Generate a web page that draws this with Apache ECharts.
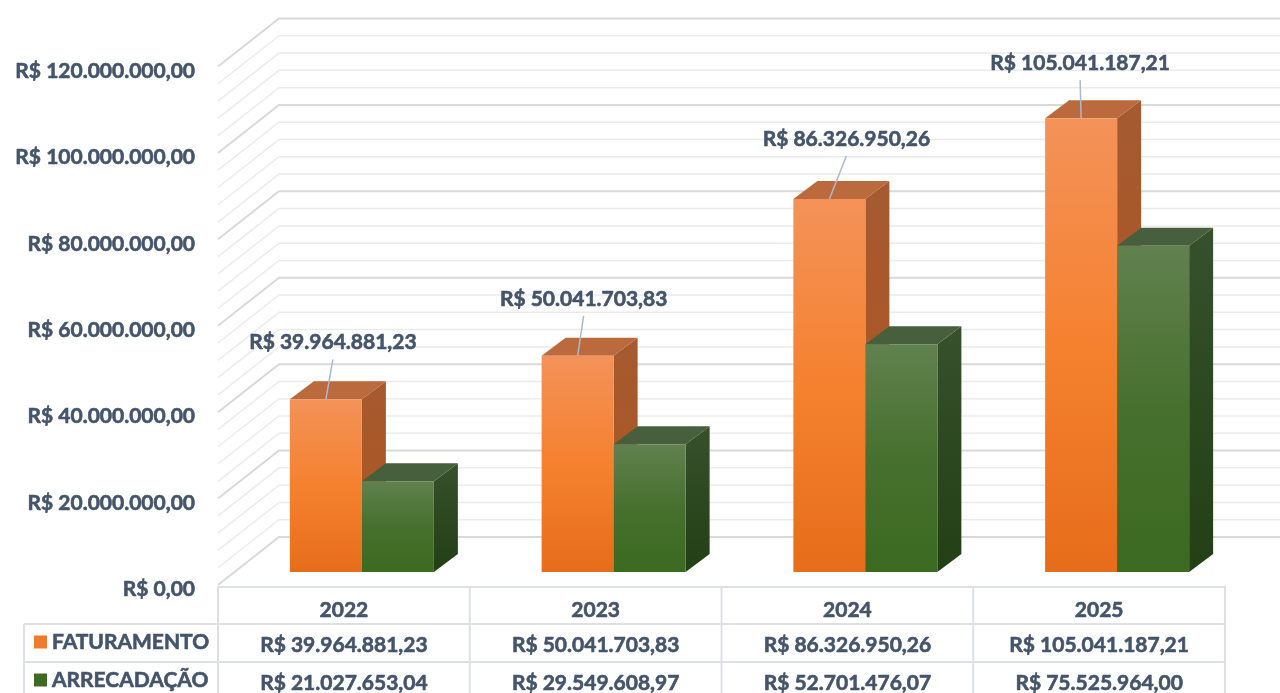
<!DOCTYPE html>
<html>
<head>
<meta charset="utf-8">
<script src="https://cdn.jsdelivr.net/npm/echarts@6/dist/echarts.min.js"></script>
<style>
  html, body { margin: 0; padding: 0; background: #ffffff; }
  #chart { width: 1280px; height: 693px; }
</style>
</head>
<body>
<div id="chart"></div>
<script>
// ---------------- data ----------------
const categories = ['2022', '2023', '2024', '2025'];
const faturamento = [39964881.23, 50041703.83, 86326950.26, 105041187.21];
const arrecadacao = [21027653.04, 29549608.97, 52701476.07, 75525964.00];
const seriesNames = ['FATURAMENTO', 'ARRECADAÇÃO'];
const yMin = 0;
const yMax = 120000000;
const yMajorStep = 20000000;
const yMinorStep = 4000000;

// ---------------- layout / style ----------------
const TEXT = '#44546a';
const FONT = 'Lato';
const BW = 0.6; // faux-bold stroke
const WALL = { dx: 61, dy: -48 };
const BAR_OFF = { dx: 18, dy: -13 };
const BAR_DEPTH = { dx: 24, dy: -18 };
const BAR_FRAC = 0.286;
const labelNudge = [[7, -57], [6, -57], [17, -60], [-1, -55]];

const palette = [
  { legend: '#ee7b2e',
    front: ['#f39259', '#f5812f', '#e66d1a'],
    side: ['#a55a30', '#b0561e'],
    top: '#bb6a3d' },
  { legend: '#3e6a25',
    front: ['#61814f', '#47702e', '#3b6a21'],
    side: ['#36512c', '#223f15'],
    top: '#475f3c' }
];

function brl(v) {
  const parts = Math.abs(v).toFixed(2).split('.');
  const ip = parts[0].replace(/\B(?=(\d{3})+(?!\d))/g, '.');
  return 'R$ ' + ip + ',' + parts[1];
}

function vgrad(stops) {
  const n = stops.length;
  return new echarts.graphic.LinearGradient(0, 0, 0, 1,
    stops.map((c, i) => ({ offset: n === 1 ? 0 : i / (n - 1), color: c })));
}

function renderWalls(params, api) {
  const cs = params.coordSys;
  const children = [];
  for (let k = 0; yMin + k * yMinorStep <= yMax + 1; k++) {
    const v = yMin + k * yMinorStep;
    const y = api.coord([0, v])[1];
    const major = (v % yMajorStep) === 0;
    children.push({
      type: 'polyline',
      shape: { points: [[cs.x, y], [cs.x + WALL.dx, y + WALL.dy], [1300, y + WALL.dy]] },
      style: { stroke: major ? '#d9d9d9' : '#ebebeb', lineWidth: major ? 2 : 1.5, fill: null }
    });
  }
  return { type: 'group', children: children, silent: true };
}

function renderTable(params, api) {
  const idx = params.dataIndex;
  const c = api.coord([idx, 0]);
  const band = api.size([1, 0])[0];
  const x0 = c[0] - band / 2, x1 = c[0] + band / 2, yb = c[1];
  const st = { stroke: '#dde1e7', lineWidth: 2 };
  const ch = [];
  const rowY = [yb + 2, yb + 39, yb + 77, yb + 115];
  rowY.forEach(y => ch.push({ type: 'line', shape: { x1: x0, y1: y, x2: x1, y2: y }, style: st }));
  ch.push({ type: 'line', shape: { x1: x0, y1: yb + 1, x2: x0, y2: yb + 130 }, style: st });
  if (idx === categories.length - 1) {
    ch.push({ type: 'line', shape: { x1: x1, y1: yb + 1, x2: x1, y2: yb + 130 }, style: st });
  }
  if (idx === 0) {
    const lx = 24;
    [yb + 39, yb + 77, yb + 115].forEach(y =>
      ch.push({ type: 'line', shape: { x1: lx, y1: y, x2: x0, y2: y }, style: st }));
    ch.push({ type: 'line', shape: { x1: lx, y1: yb + 39, x2: lx, y2: yb + 130 }, style: st });
  }
  return { type: 'group', children: ch, silent: true };
}

function makeBarRenderer(si) {
  return function (params, api) {
    const idx = params.dataIndex;
    const val = api.value(1);
    const pTop = api.coord([idx, val]);
    const pBot = api.coord([idx, 0]);
    const band = api.size([1, 0])[0];
    const w = band * BAR_FRAC;
    const fx = pTop[0] + BAR_OFF.dx + (si === 0 ? -w : 0);
    const topY = pTop[1] + BAR_OFF.dy;
    const botY = pBot[1] + BAR_OFF.dy;
    const pal = palette[si];
    const ch = [];
    ch.push({ type: 'polygon',
      shape: { points: [[fx + w, topY], [fx + w + BAR_DEPTH.dx, topY + BAR_DEPTH.dy],
                        [fx + w + BAR_DEPTH.dx, botY + BAR_DEPTH.dy], [fx + w, botY]] },
      style: { fill: vgrad(pal.side) } });
    ch.push({ type: 'polygon',
      shape: { points: [[fx, topY], [fx + w, topY], [fx + w + BAR_DEPTH.dx, topY + BAR_DEPTH.dy],
                        [fx + BAR_DEPTH.dx, topY + BAR_DEPTH.dy]] },
      style: { fill: pal.top } });
    ch.push({ type: 'rect',
      shape: { x: fx, y: topY, width: w, height: botY - topY },
      style: { fill: vgrad(pal.front) } });
    if (si === 0) {
      const ax = fx + w / 2, ay = topY;
      const nd = labelNudge[idx];
      const lx = ax + nd[0], ly = ay + nd[1];
      ch.push({ type: 'line',
        shape: { x1: ax, y1: ay, x2: lx, y2: ly + 17 },
        style: { stroke: '#a9bacd', lineWidth: 1.5 } });
      ch.push({ type: 'text',
        style: { x: lx, y: ly, text: brl(val), align: 'center', verticalAlign: 'middle',
                 fill: TEXT, font: 'bold 21px ' + FONT, stroke: TEXT, lineWidth: BW } });
    }
    return { type: 'group', children: ch };
  };
}

const chart = echarts.init(document.getElementById('chart'), null, { renderer: 'canvas' });

const txt = { fontFamily: FONT, fontWeight: 'bold', fontSize: 21, color: TEXT,
              textBorderColor: TEXT, textBorderWidth: BW };

const option = {
  backgroundColor: '#ffffff',
  animation: false,
  textStyle: { fontFamily: FONT },
  grid: { left: 218, right: 55, top: 66.5, bottom: 108, containLabel: false, outerBoundsMode: 'none' },
  legend: {
    data: seriesNames,
    orient: 'vertical',
    left: 34, top: 630,
    padding: 0,
    itemWidth: 13, itemHeight: 13, itemGap: 14,
    icon: 'rect',
    selectedMode: false,
    textStyle: Object.assign({ lineHeight: 24 }, txt)
  },
  xAxis: {
    type: 'category',
    data: categories,
    axisLine: { show: false },
    axisTick: { show: false },
    splitLine: { show: false },
    axisLabel: {
      interval: 0,
      margin: 10,
      formatter: function (val, i) {
        return '{h|' + val + '}\n{v|' + brl(faturamento[i]) + '}\n{v|' + brl(arrecadacao[i]) + '}';
      },
      rich: {
        h: Object.assign({ lineHeight: 31 }, txt),
        v: Object.assign({ lineHeight: 38 }, txt)
      }
    }
  },
  yAxis: {
    type: 'value',
    min: yMin, max: yMax, interval: yMajorStep,
    axisLine: { show: false },
    axisTick: { show: false },
    splitLine: { show: false },
    axisLabel: Object.assign({
      margin: 23,
      formatter: v => '{y|' + brl(v) + '}',
      rich: { y: Object.assign({ lineHeight: 24, padding: [9, 0, 0, 0] }, txt) }
    }, txt)
  },
  series: [
    { type: 'custom', name: '_walls', silent: true, clip: false, z: 1,
      renderItem: renderWalls, data: [[0, 0]] },
    { type: 'custom', name: '_table', silent: true, clip: false, z: 1,
      renderItem: renderTable, data: categories.map((c, i) => [i, 0]) },
    { type: 'custom', name: seriesNames[0], clip: false, z: 2,
      itemStyle: { color: palette[0].legend },
      renderItem: makeBarRenderer(0),
      encode: { x: 0, y: 1 },
      data: faturamento.map((v, i) => [i, v]) },
    { type: 'custom', name: seriesNames[1], clip: false, z: 3,
      itemStyle: { color: palette[1].legend },
      renderItem: makeBarRenderer(1),
      encode: { x: 0, y: 1 },
      data: arrecadacao.map((v, i) => [i, v]) }
  ]
};
chart.setOption(option);
</script>
</body>
</html>
